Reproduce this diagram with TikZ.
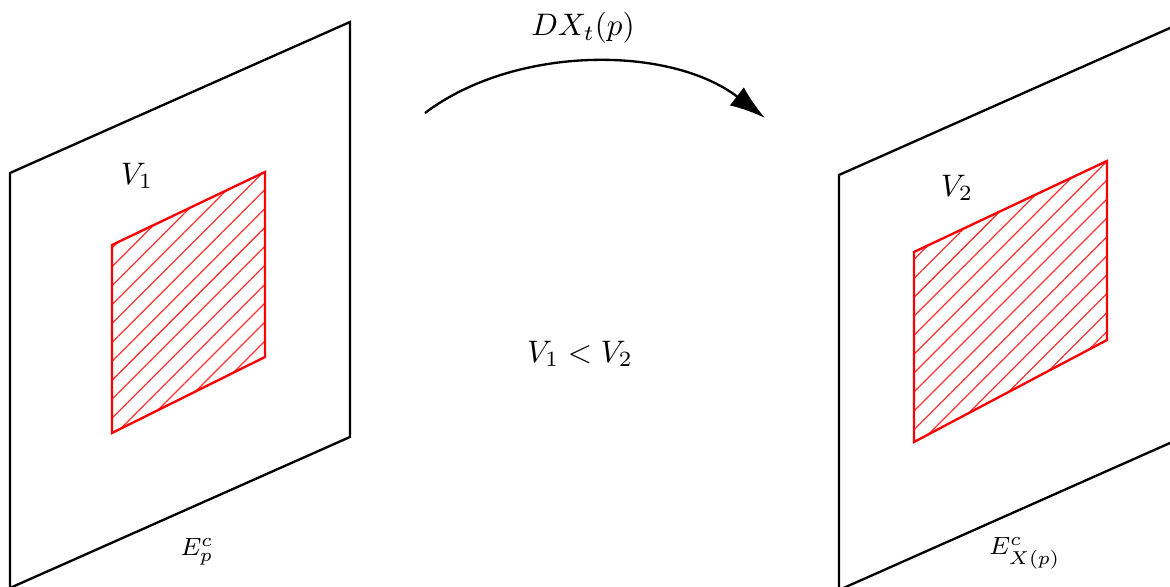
\documentclass[tikz,border=0pt]{standalone}
\usetikzlibrary{arrows.meta,patterns.meta}

\begin{document}
\begin{tikzpicture}[
  x=0.3214pt, y=-0.3214pt,
  plane/.style={draw, line width=0.75pt},
  region/.style={draw=red, line width=0.75pt,
    pattern={Lines[angle=45, distance=4.3pt, line width=0.4pt]}, pattern color=red!80},
  sublbl/.style={font=\footnotesize},
  flow/.style={-{Latex[length=4mm, width=2.6mm]}, line width=0.75pt}
]
\useasboundingbox (0,0) rectangle (1170,587);
\clip (0,0) rectangle (1170,587);

% tangent plane at p
\draw[plane] (10,173) -- (350,22) -- (350,437) -- (10,588) -- cycle;
\draw[region] (112,245) -- (265,172) -- (265,357) -- (112,433) -- cycle;
\node (v1) at (137,176) {$V_1$};
\node[sublbl] (ep) at (197,552) {$E^c_p$};

% tangent plane at X(p)
\draw[plane] (839,175) -- (1179,24) -- (1179,439) -- (839,590) -- cycle;
\draw[region] (914,252) -- (1107,161) -- (1107,340) -- (914,442) -- cycle;
\node (v2) at (957,188) {$V_2$};
\node[sublbl] (exp) at (1025,553) {$E^c_{X(p)}$};

% derivative map
\coordinate (src) at (425,113);
\coordinate (dst) at (765,118);
\draw[flow] (src) .. controls (515,45) and (670,45) .. (dst);
\node (dx) at (583,28) {$DX_t(p)$};
\node (cmp) at (580,354) {$V_1 < V_2$};
\end{tikzpicture}
\end{document}
